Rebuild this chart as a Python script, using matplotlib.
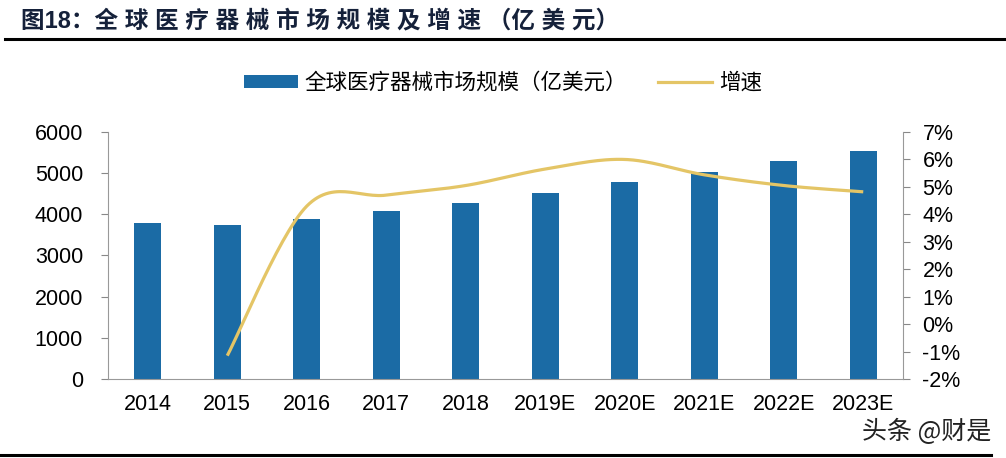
import numpy as np
import matplotlib
matplotlib.use('Agg')
import matplotlib.pyplot as plt
from matplotlib.patches import Patch
from matplotlib.lines import Line2D

plt.rcParams['font.family'] = ['Liberation Sans', 'Noto Sans CJK SC', 'DejaVu Sans']

years = ['2014', '2015', '2016', '2017', '2018', '2019E', '2020E', '2021E', '2022E', '2023E']
market_size = [3780, 3730, 3890, 4080, 4280, 4520, 4785, 5036, 5288, 5546]
growth = [None, -1.15, 4.3, 4.7, 5.05, 5.65, 6.0, 5.44, 5.05, 4.82]

bar_color = '#1B6BA5'
line_color = '#E4C566'
cjk = ['Noto Sans CJK SC', 'DejaVu Sans']


def smooth(xs, ys, n=30):
    # Catmull-Rom curve through the points, like Excel's smoothed line
    xs = np.asarray(xs, float)
    ys = np.asarray(ys, float)
    px = np.concatenate([[xs[0]], xs, [xs[-1]]])
    py = np.concatenate([[ys[0]], ys, [ys[-1]]])
    outx, outy = [], []
    for i in range(1, len(px) - 2):
        t = np.linspace(0, 1, n)
        for p, out in ((px, outx), (py, outy)):
            p0, p1, p2, p3 = p[i - 1], p[i], p[i + 1], p[i + 2]
            b1 = p1 + (p2 - p0) / 6
            b2 = p2 - (p3 - p1) / 6
            out.extend((1 - t) ** 3 * p1 + 3 * (1 - t) ** 2 * t * b1 + 3 * (1 - t) * t ** 2 * b2 + t ** 3 * p2)
    return outx, outy


fig = plt.figure(figsize=(10.06, 4.58), dpi=100)
ax = fig.add_axes([0.1074, 0.1725, 0.7902, 0.5393])
x = np.arange(len(years))
ax.bar(x, market_size, width=0.34, color=bar_color, zorder=2)
ax.set_xlim(-0.5, len(years) - 0.5)
ax.set_ylim(0, 6000)
ax.set_yticks(range(0, 6001, 1000))
ax.set_xticks(x)
ax.set_xticklabels(years, fontsize=15.5)
ax.tick_params(axis='y', labelsize=15.5, length=5, color='#888888', pad=13)
ax.tick_params(axis='x', length=0, pad=11)
for s in ['top', 'right']:
    ax.spines[s].set_visible(False)
for s in ['left', 'bottom']:
    ax.spines[s].set_color('#999999')

ax2 = ax.twinx()
gx = [i for i, g in enumerate(growth) if g is not None]
gy = [g for g in growth if g is not None]
sx, sy = smooth(gx, gy)
ax2.plot(sx, sy, color=line_color, lw=2.3, solid_capstyle='butt')
ax2.set_ylim(-2, 7)
ax2.set_yticks(range(-2, 8))
ax2.set_yticklabels([f'{v}%' for v in range(-2, 8)])
ax2.tick_params(axis='y', labelsize=15.5, length=5, color='#888888', pad=9)
for s in ['top', 'left', 'bottom']:
    ax2.spines[s].set_visible(False)
ax2.spines['right'].set_color('#999999')

handles = [Patch(facecolor=bar_color), Line2D([0], [0], color=line_color, lw=2.3)]
labels = ['全球医疗器械市场规模（亿美元）', '增速']
fig.legend(handles, labels, loc='center', bbox_to_anchor=(0.5, 0.819), ncol=2,
           frameon=False, prop={'family': cjk, 'size': 15.5}, handlelength=2.5,
           handleheight=0.55, columnspacing=1.45, handletextpad=0.3)

title = '图18：' + ' '.join('全球医疗器械市场规模及增速') + ' （' + ' '.join('亿美元') + '）'
fig.text(0.021, 0.955, title, fontsize=17, fontweight='bold',
         family=['Liberation Sans', 'Noto Sans CJK SC'], color='#15213a',
         va='center', ha='left')
fig.add_artist(Line2D([0.005, 0.998], [0.914, 0.914], color='black', lw=2.2))
fig.add_artist(Line2D([0.0, 0.985], [0.007, 0.007], color='black', lw=2.2))
fig.text(0.857, 0.057, '头条 @财是', fontsize=18, family=cjk, color='#222222',
         va='center', ha='left')

fig.savefig('out.png', dpi=100)
